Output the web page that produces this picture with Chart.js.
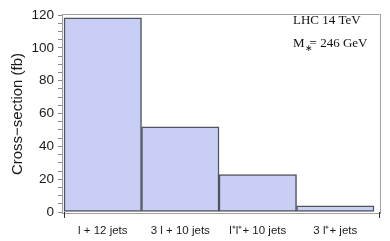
<!DOCTYPE html>
<html><head><meta charset="utf-8">
<script src="https://cdn.jsdelivr.net/npm/chart.js@4"></script>
<style>html,body{margin:0;padding:0;background:#fff}#c{display:block}</style>
</head><body>
<canvas id="c" width="390" height="241"></canvas>
<script>
const categories = ["l + 12 jets", "3 l + 10 jets", "l\u207Al\u207A+ 10 jets", "3 l\u207A+ jets"];
const crossSection = [118.3, 52, 22.8, 3.8];
const yTickLabels = [0, 20, 40, 60, 80, 100, 120];
const annotationLines = ["LHC 14 TeV", "M\u2217 = 246 GeV"];

const points = categories.map((c, i) => ({x: i + 0.5, y: crossSection[i]}));

const framePlugin = {
  id: 'frame',
  afterDraw(chart) {
    const {ctx, chartArea: a} = chart;
    ctx.save();
    ctx.strokeStyle = '#a0a0a0';
    ctx.lineWidth = 1;
    ctx.strokeRect(a.left + 0.5, a.top + 0.5, a.right - a.left - 1, a.bottom - a.top - 1);
    // x-axis edge tick marks
    ctx.strokeStyle = '#333';
    ctx.beginPath();
    ctx.moveTo(a.left + 2.5, a.bottom - 2); ctx.lineTo(a.left + 2.5, a.bottom + 4);
    ctx.moveTo(a.right - 1.5, a.bottom - 2); ctx.lineTo(a.right - 1.5, a.bottom + 4);
    ctx.stroke();
    // annotation
    ctx.fillStyle = '#111';
    ctx.font = '13px "Liberation Serif", serif';
    ctx.textBaseline = 'middle';
    ctx.fillText(annotationLines[0], 293, 21);
    ctx.fillText('M', 293, 44);
    const mw = ctx.measureText('M').width;
    ctx.font = '9px "Liberation Serif", serif';
    ctx.fillText('\u2217', 293 + mw, 49);
    ctx.font = '13px "Liberation Serif", serif';
    ctx.fillText('= 246 GeV', 293 + mw + 5, 44);
    ctx.restore();
  }
};

new Chart(document.getElementById('c'), {
  type: 'bar',
  data: {
    datasets: [{
      data: points,
      backgroundColor: '#c9cef4',
      borderColor: '#50545e',
      borderWidth: 1.5,
      barPercentage: 1,
      categoryPercentage: 1,
      borderSkipped: false
    }]
  },
  options: {
    responsive: false,
    animation: false,
    layout: {padding: {top: 14, right: 9, left: 0, bottom: 0}},
    plugins: {legend: {display: false}, tooltip: {enabled: false}},
    scales: {
      x: {
        type: 'linear',
        offset: false,
        min: -0.026,
        max: 4.09,
        border: {display: false},
        grid: {display: false, offset: false},
        afterBuildTicks: s => { s.ticks = categories.map((c, i) => ({value: i + 0.5})); },
        afterFit: s => { s.height = 27; },
        ticks: {
          autoSkip: false, maxRotation: 0, padding: 2, color: '#1a1a1a',
          font: {family: '"Liberation Sans", Arial, sans-serif', size: 11.5},
          callback: v => { const i = Math.round(v - 0.5); return (i >= 0 && i < categories.length) ? categories[i] : ''; }
        }
      },
      y: {
        min: -1.2,
        max: 120.7,
        border: {display: false},
        grid: {display: true, drawOnChartArea: false, drawTicks: true, tickLength: 4, color: '#888'},
        afterBuildTicks: s => { const t = []; for (let v = 0; v <= 120; v += 5) t.push({value: v}); s.ticks = t; },
        afterFit: s => { s.width = 62; },
        ticks: {
          autoSkip: false, padding: 4, color: '#1a1a1a',
          font: {family: '"Liberation Sans", Arial, sans-serif', size: 13.5},
          callback: v => yTickLabels.includes(v) ? String(v) : ''
        },
        title: {display: true, text: 'Cross\u2212section (fb)', color: '#1a1a1a',
          font: {family: '"Liberation Sans", Arial, sans-serif', size: 15}, padding: {top: 9, bottom: 0}}
      }
    }
  },
  plugins: [framePlugin]
});
</script>
</body></html>
